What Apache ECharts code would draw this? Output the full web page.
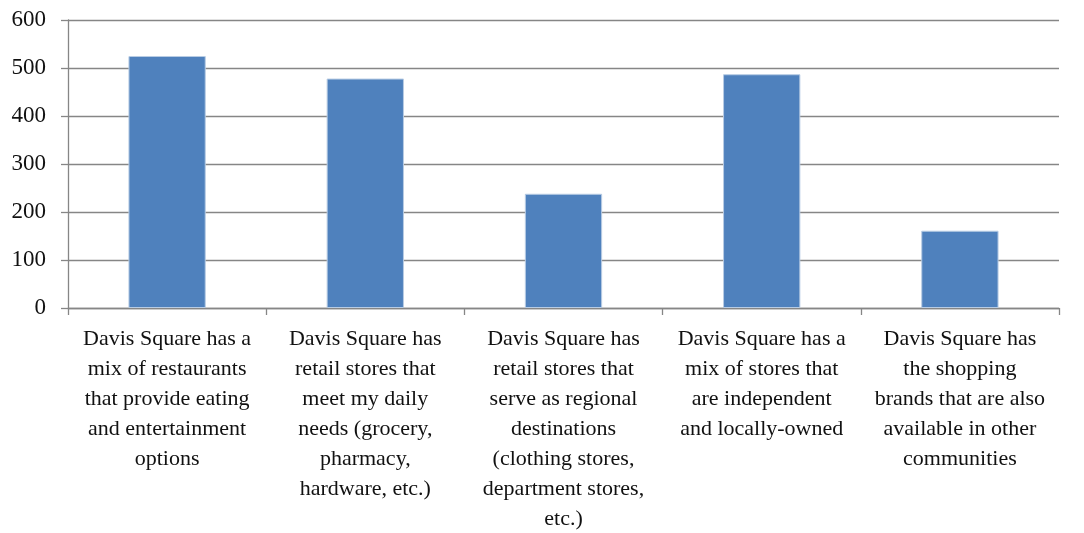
<!DOCTYPE html>
<html>
<head>
<meta charset="utf-8">
<script src="https://cdn.jsdelivr.net/npm/echarts@6/dist/echarts.min.js"></script>
<style>
  html, body { margin: 0; padding: 0; background: #fff; }
  #chart { width: 1084px; height: 533px; }
</style>
</head>
<body>
<div id="chart"></div>
<script>
// 类目文字（手动换行）
var categories = [
    'Davis Square has a\nmix of restaurants\nthat provide eating\nand entertainment\noptions',
    'Davis Square has\nretail stores that\nmeet my daily\nneeds (grocery,\npharmacy,\nhardware, etc.)',
    'Davis Square has\nretail stores that\nserve as regional\ndestinations\n(clothing stores,\ndepartment stores,\netc.)',
    'Davis Square has a\nmix of stores that\nare independent\nand locally-owned',
    'Davis Square has\nthe shopping\nbrands that are also\navailable in other\ncommunities'
];
// 柱子数值
var values = [525, 478, 238, 487, 161];

(function () {
    var myChart = echarts.init(document.getElementById('chart'));
    var axisColor = '#868686';
    var font = '"Liberation Serif", "DejaVu Serif", serif';
    var option = {
        animation: false,
        grid: {
            left: 68,
            right: 25,
            top: 20,
            bottom: 225,
            containLabel: false,
            outerBoundsMode: 'none'
        },
        xAxis: {
            type: 'category',
            data: categories,
            axisLine: { lineStyle: { color: axisColor, width: 1.3 } },
            axisTick: { show: true, alignWithLabel: false, length: 7, lineStyle: { color: axisColor, width: 1.3 } },
            axisLabel: {
                interval: 0,
                color: '#111',
                fontFamily: font,
                fontSize: 22,
                lineHeight: 30,
                margin: 16,
                verticalAlign: 'top'
            }
        },
        yAxis: {
            type: 'value',
            min: 0,
            max: 600,
            interval: 100,
            axisLine: { show: true, lineStyle: { color: axisColor, width: 1.3 } },
            axisTick: { show: true, length: 7, lineStyle: { color: axisColor, width: 1.3 } },
            axisLabel: {
                color: '#111',
                fontFamily: font,
                fontSize: 23,
                margin: 22
            },
            splitLine: { lineStyle: { color: axisColor, width: 1.3 } }
        },
        series: [{
            type: 'bar',
            data: values,
            barWidth: '39%',
            itemStyle: {
                color: '#4f81bd',
                borderColor: '#b8cce4',
                borderWidth: 1
            }
        }]
    };
    myChart.setOption(option);
})();
</script>
</body>
</html>
